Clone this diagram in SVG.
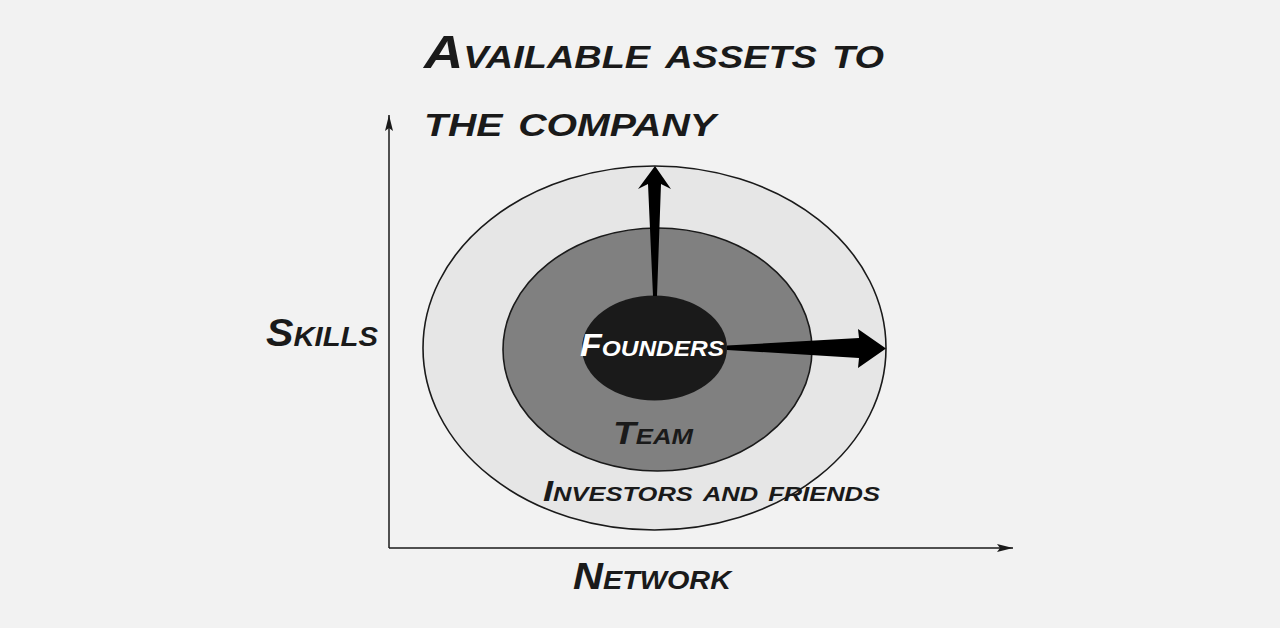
<svg xmlns="http://www.w3.org/2000/svg" width="1280" height="628" viewBox="0 0 1280 628">
<defs>
<style>
.t{font-family:"Liberation Sans",Arial,sans-serif;font-weight:bold;font-style:italic;font-variant:small-caps;fill:#1a1a1a}
.ax{stroke:#1a1a1a;stroke-width:1.5;fill:none}
.ring{stroke:#1a1a1a;stroke-width:1.6}
</style>
<marker id="ah" viewBox="0 0 16 8" refX="16" refY="4" markerWidth="16" markerHeight="8" markerUnits="userSpaceOnUse" orient="auto">
<path d="M0,0 L16,4 L0,8 L3,4 Z" fill="#1a1a1a"/>
</marker>
</defs>
<rect width="1280" height="628" fill="#f2f2f2"/>
<g id="title">
<text class="t" x="424" y="68" font-size="46" textLength="460" lengthAdjust="spacingAndGlyphs">Available assets to</text>
<text class="t" x="424" y="136" font-size="46" textLength="292" lengthAdjust="spacingAndGlyphs">the company</text>
</g>
<g id="axes">
<line class="ax" x1="389" y1="548" x2="389" y2="115" marker-end="url(#ah)"/>
<line class="ax" x1="389" y1="548" x2="1013" y2="548" marker-end="url(#ah)"/>
</g>
<g id="investors">
<ellipse class="ring" cx="654.5" cy="348" rx="231.5" ry="182" fill="#e6e6e6"/>
</g>
<g id="team">
<ellipse class="ring" cx="657.5" cy="349.5" rx="154.5" ry="121.5" fill="#808080"/>
</g>
<g id="founders">
<ellipse cx="654.5" cy="348" rx="72.5" ry="52.5" fill="#1a1a1a"/>
</g>
<g id="connectors">
<path d="M653,296 L648,184 L638,189 L655,166 L671,189 L661,184 L657,296 Z" fill="#000"/>
<path d="M727,345.5 L859,338 L858,329 L886,348.5 L858,368 L859,358 L727,350 Z" fill="#000"/>
</g>
<g id="labels">
<text class="t" x="266" y="346" font-size="38" textLength="112" lengthAdjust="spacingAndGlyphs">Skills</text>
<text class="t" x="580" y="356" font-size="32" textLength="144" lengthAdjust="spacingAndGlyphs" style="fill:#fff">Founders</text>
<text class="t" x="613" y="444" font-size="32" textLength="80" lengthAdjust="spacingAndGlyphs">Team</text>
<text class="t" x="543" y="501" font-size="30" textLength="337" lengthAdjust="spacingAndGlyphs">Investors and friends</text>
<text class="t" x="573" y="589" font-size="36" textLength="158" lengthAdjust="spacingAndGlyphs">Network</text>
</g>
</svg>
